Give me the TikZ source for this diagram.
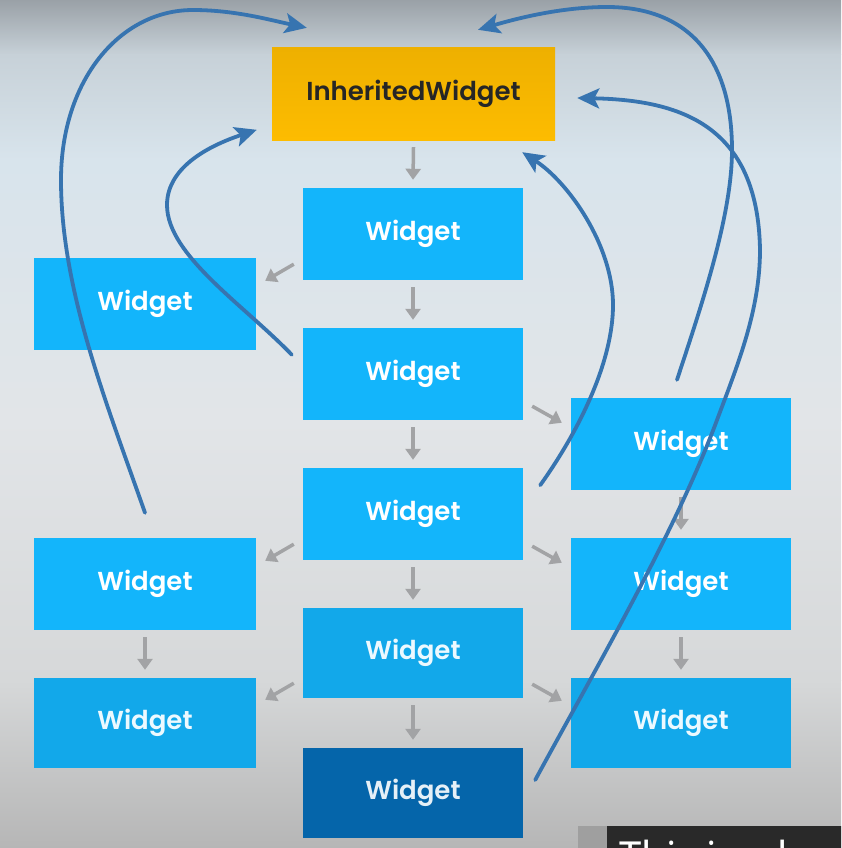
\documentclass[tikz,border=0pt]{standalone}
\usepackage{fontspec}
\setmainfont{Poppins}
\newfontfamily\boxfont{Poppins SemiBold}
\newfontfamily\capfont{Noto Sans}
\usetikzlibrary{arrows.meta}
\definecolor{cyanbox}{HTML}{13B5FB}
\definecolor{cyanlow}{HTML}{12A8EA}
\definecolor{darkbox}{HTML}{0565AA}
\definecolor{goldbox}{HTML}{FDBC00}
\definecolor{goldtop}{HTML}{EEB000}
\definecolor{grayarr}{HTML}{A2A3A5}
\definecolor{bluearr}{HTML}{3774B0}
\definecolor{bgA}{HTML}{9AA1A7}
\definecolor{bgB}{HTML}{C7D1D8}
\definecolor{bgC}{HTML}{D8E4EC}
\definecolor{bgD}{HTML}{E2E5E8}
\definecolor{bgE}{HTML}{D6D8D9}
\definecolor{bgF}{HTML}{B6B6B6}
\tikzset{
  wbox/.style={rectangle, fill=cyanbox, minimum width=220pt, minimum height=92pt,
    inner sep=0pt, font=\boxfont\fontsize{26}{30}\selectfont, text=white},
  wlow/.style={wbox, fill=cyanlow, minimum height=90pt, text=white!92!cyanbox},
  wdark/.style={wbox, fill=darkbox, minimum height=90pt, text=white!90!darkbox},
  ibox/.style={rectangle, top color=goldtop, bottom color=goldbox, minimum width=283pt,
    minimum height=92pt, inner sep=0pt, font=\boxfont\fontsize{26}{30}\selectfont, text=black!85},
  garrow/.style={draw=grayarr, line width=3.5pt, -{Triangle[length=11pt,width=15pt]}},
  barrow/.style={draw=bluearr, line width=3.8pt, line cap=round,
    -{Stealth[length=22pt,width=20pt,inset=5pt]}},
}
\begin{document}
\begin{tikzpicture}[x=1pt,y=-1pt]
\useasboundingbox (0,0) rectangle (841,848);
% background
\shade[top color=bgA, bottom color=bgB] (0,0) rectangle (841,55);
\shade[top color=bgB, bottom color=bgC] (0,55) rectangle (841,160);
\shade[top color=bgC, bottom color=bgD] (0,160) rectangle (841,420);
\shade[top color=bgD, bottom color=bgE] (0,420) rectangle (841,680);
\shade[top color=bgE, bottom color=bgF] (0,680) rectangle (841,848);

% boxes
\node[ibox] (I) at (413.5,94) {InheritedWidget};
\node[wbox] (W1) at (413,234) {Widget};
\node[wbox] (W2) at (413,374) {Widget};
\node[wbox] (W3) at (413,514) {Widget};
\node[wlow] (W4) at (413,653) {Widget};
\node[wdark] (W5) at (413,793) {Widget};
\node[wbox, minimum width=222pt] (L1) at (145,304) {Widget};
\node[wbox, minimum width=222pt] (L2) at (145,584) {Widget};
\node[wlow, minimum width=222pt] (L3) at (145,723) {Widget};
\node[wbox] (R1) at (681,444) {Widget};
\node[wbox] (R2) at (681,584) {Widget};
\node[wlow] (R3) at (681,723) {Widget};

% gray arrows
\draw[garrow] ([shift={(0,7)}]I.south) -- ([shift={(0,-8)}]W1.north);
\draw[garrow] ([shift={(0,7)}]W1.south) -- ([shift={(0,-8)}]W2.north);
\draw[garrow] ([shift={(0,7)}]W2.south) -- ([shift={(0,-8)}]W3.north);
\draw[garrow] ([shift={(0,7)}]W3.south) -- ([shift={(0,-8)}]W4.north);
\draw[garrow] ([shift={(0,7)}]W4.south) -- ([shift={(0,-8)}]W5.north);
\draw[garrow] ([shift={(0,7)}]L2.south) -- ([shift={(0,-8)}]L3.north);
\draw[garrow] ([shift={(0,7)}]R1.south) -- ([shift={(0,-8)}]R2.north);
\draw[garrow] ([shift={(0,7)}]R2.south) -- ([shift={(0,-8)}]R3.north);
\draw[garrow] ([shift={(-9,-16)}]W1.south west) -- ([shift={(9,23)}]L1.north east);
\draw[garrow] ([shift={(-9,-16)}]W3.south west) -- ([shift={(9,23)}]L2.north east);
\draw[garrow] ([shift={(-9,-15)}]W4.south west) -- ([shift={(9,22)}]L3.north east);
\draw[garrow] ([shift={(9,-14)}]W2.south east) -- ([shift={(-9,25)}]R1.north west);
\draw[garrow] ([shift={(9,-14)}]W3.south east) -- ([shift={(-9,25)}]R2.north west);
\draw[garrow] ([shift={(9,-14)}]W4.south east) -- ([shift={(-9,23)}]R3.north west);

% blue curves
\coordinate (a1) at ([shift={(0,-25)}]L2.north);
\coordinate (b1) at ([shift={(35,-20)}]I.north west);
\coordinate (a2) at ([shift={(-11,27)}]W2.north west);
\coordinate (b2) at ([shift={(-15,82)}]I.north west);
\coordinate (a3) at ([shift={(17,-75)}]W3.south east);
\coordinate (b3) at ([shift={(-33,12)}]I.south east);
\coordinate (a4) at ([shift={(-4,-18)}]R1.north);
\coordinate (b4) at ([shift={(64.5,-18)}]I.north);
\coordinate (a5) at ([shift={(12,-13)}]W5.east);
\coordinate (b5) at ([shift={(22,4)}]I.east);

\draw[barrow] (a1) .. controls (106.5,403) and (61,290) .. (61,180)
  .. controls (61,80) and (120,10) .. (193,10)
  .. controls (235,10) and (270,20) .. (b1);
\draw[barrow] (a2) .. controls (244,305) and (167,255) .. (167,205)
  .. controls (167,165) and (214,144) .. (b2);
\draw[barrow] (a3) .. controls (581,428) and (613,360) .. (613,305)
  .. controls (613,245) and (568,182) .. (b3);
\draw[barrow] (a4) .. controls (702,304) and (732,215) .. (732,150)
  .. controls (732,60) and (690,7) .. (607,7)
  .. controls (560,7) and (515,19) .. (b4);
\draw[barrow] (a5) .. controls (597,666) and (675,533) .. (717,420)
  .. controls (738,364) and (760,310) .. (760,250)
  .. controls (758,125) and (680,100) .. (b5);

% caption fragment
\begin{scope}
\clip (0,0) rectangle (841,848);
\fill[gray!75] (578,826) rectangle (607,860);
\fill[black!84] (607,826) rectangle (860,860);
\node[anchor=base west, inner sep=0pt, text=white, font=\capfont\fontsize{40}{44}\selectfont] (cap) at (619,870) {This is why};
\end{scope}
\end{tikzpicture}
\end{document}
